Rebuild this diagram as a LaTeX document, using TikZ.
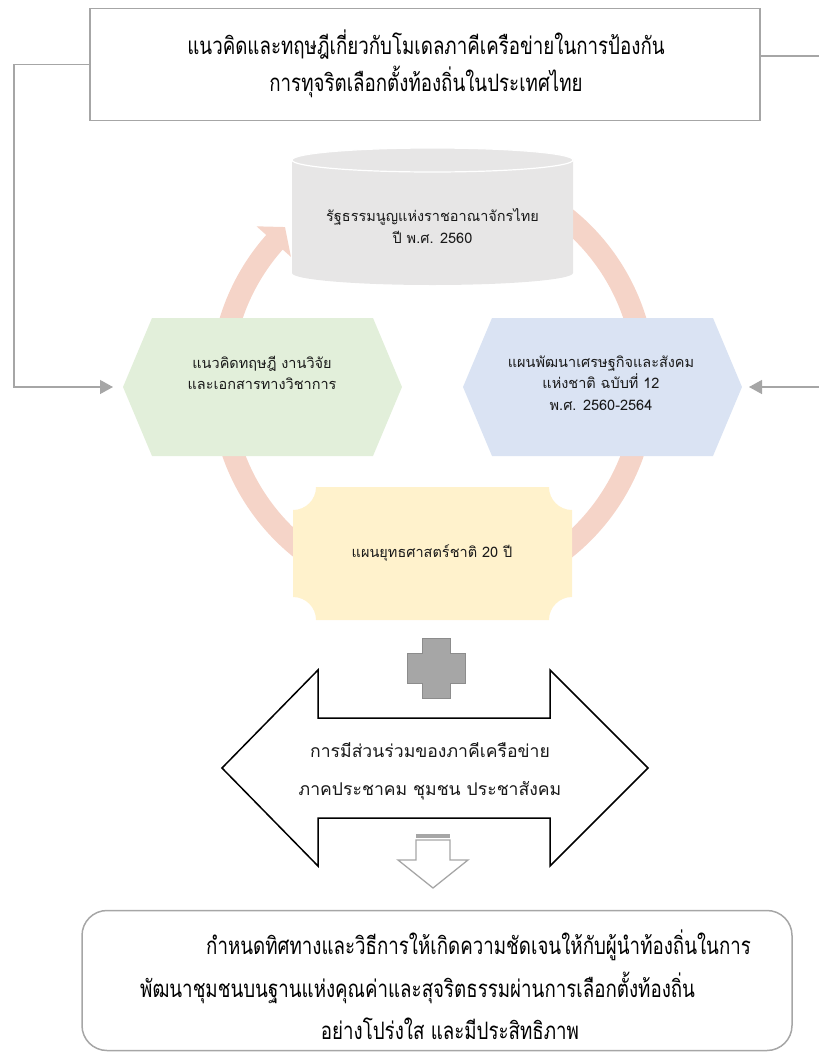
\documentclass[tikz,border=0pt]{standalone}
\usepackage{fontspec}
\newfontfamily\thai[Script=Thai]{Loma}
\newfontfamily\thaicond[Script=Thai,FakeStretch=0.78]{Loma}
\usetikzlibrary{calc,arrows.meta}
\definecolor{ringc}{RGB}{245,212,200}
\definecolor{cylc}{RGB}{231,230,230}
\definecolor{greenc}{RGB}{226,239,218}
\definecolor{bluec}{RGB}{218,227,243}
\definecolor{yellowc}{RGB}{255,242,204}
\definecolor{linec}{RGB}{166,166,166}
\definecolor{crossd}{RGB}{140,140,140}
\definecolor{txt}{RGB}{25,25,25}
\begin{document}
\begin{tikzpicture}[x=1pt,y=-1pt,
  conn/.style={draw=linec,line width=1.3pt},
  tipc/.style={-{Triangle[length=13pt,width=14pt]}},
  condtxt/.style={font={\thaicond\fontsize{24}{30}\selectfont},text=black,inner sep=0pt},
  midtxt/.style={font={\thai\fontsize{14.5}{21.5}\selectfont},text=txt,align=center,inner sep=0pt},
  bigtxt/.style={font={\thai\fontsize{17.6}{38}\selectfont},text=txt,align=center,inner sep=0pt}]
\useasboundingbox (0,0) rectangle (819,1055);
% ring
\coordinate (rc) at (433,383);
\draw[ringc,line width=22pt] ([shift={(-60:212)}]rc) arc[start angle=-60,end angle=222,radius=212];
\fill[ringc] ([shift={(221.6:190)}]rc) -- ([shift={(226.5:215)}]rc) -- ([shift={(221.6:236)}]rc) -- cycle;
% cylinder
\fill[cylc] (292,160) -- (292,273) arc[start angle=180,end angle=0,x radius=140.5,y radius=12]
  -- (573,160) arc[start angle=0,end angle=-180,x radius=140.5,y radius=12] -- cycle;
\draw[white,line width=1.2pt] (432.5,160) ellipse[x radius=140.5,y radius=12];
\node[midtxt] (cyl) at (432.5,226) {รัฐธรรมนูญแห่งราชอาณาจักรไทย\\ปี พ.ศ. 2560};
% left hexagon
\fill[greenc] (123,387) -- (152,318) -- (373,318) -- (402,387) -- (373,456) -- (152,456) -- cycle;
\coordinate (hexLw) at (123,387);
\node[midtxt] (hexL) at (262,373) {แนวคิดทฤษฎี งานวิจัย\\และเอกสารทางวิชาการ};
% right hexagon
\fill[bluec] (463,387) -- (492,318) -- (713,318) -- (742,387) -- (713,456) -- (492,456) -- cycle;
\coordinate (hexRe) at (742,387);
\node[midtxt] (hexR) at (601,383) {แผนพัฒนาเศรษฐกิจและสังคม\\แห่งชาติ ฉบับที่ 12\\พ.ศ. 2560-2564};
% yellow plaque
\fill[yellowc] (316,487) -- (549,487) arc[start angle=180,end angle=90,radius=23]
  -- (572,597) arc[start angle=-90,end angle=-180,radius=23]
  -- (316,620) arc[start angle=0,end angle=-90,radius=23]
  -- (293,510) arc[start angle=90,end angle=0,radius=23] -- cycle;
\node[midtxt] (plan) at (432,553) {แผนยุทธศาสตร์ชาติ 20 ปี};
% top box
\node[draw=linec,line width=1.6pt,minimum width=670pt,minimum height=112pt,inner sep=0pt] (topbox) at (425,64.5) {};
\node[condtxt] (t1) at (426,45) {แนวคิดและทฤษฎีเกี่ยวกับโมเดลภาคีเครือข่ายในการป้องกัน};
\node[condtxt] (t2) at (426,82) {การทุจริตเลือกตั้งท้องถิ่นในประเทศไทย};
% connectors
\coordinate (lcorner) at (14,387);
\coordinate (rcorner) at (840,387);
\draw[conn,tipc,shorten >=10pt] (topbox.west) -| (lcorner) -- (hexLw);
\draw[conn,tipc,shorten >=7pt] ([yshift=8.5pt]topbox.east) -| (rcorner) -- (hexRe);
% cross
\path[fill=linec,draw=crossd,line width=1pt] (422,638) -- (450,638) -- (450,653) -- (465,653) -- (465,683)
  -- (450,683) -- (450,698) -- (422,698) -- (422,683) -- (407,683) -- (407,653) -- (422,653) -- cycle;
% double arrow
\path[draw=black,fill=white,line width=1.5pt,line join=miter] (222,768) -- (318,670) -- (318,718) -- (550,718)
  -- (550,670) -- (648,768) -- (550,866) -- (550,818) -- (318,818) -- (318,866) -- cycle;
\node[bigtxt] (part) at (430,771) {การมีส่วนร่วมของภาคีเครือข่าย\\ภาคประชาคม ชุมชน ประชาสังคม};
% down arrow
\fill[linec] (416,834) rectangle (450,837.5);
\path[draw=linec,fill=white,line width=1.3pt] (416,840) -- (450,840) -- (450,860) -- (468,860) -- (433,888)
  -- (398,860) -- (416,860) -- cycle;
% bottom box
\node[draw=linec,line width=1.5pt,rounded corners=25pt,minimum width=710pt,minimum height=140pt] (outcome) at (437,980.5) {};
\node[condtxt,anchor=west] (o1) at (206,945) {กำหนดทิศทางและวิธีการให้เกิดความชัดเจนให้กับผู้นำท้องถิ่นในการ};
\node[condtxt,anchor=west] (o2) at (140,988) {พัฒนาชุมชนบนฐานแห่งคุณค่าและสุจริตธรรมผ่านการเลือกตั้งท้องถิ่น};
\node[condtxt] (o3) at (450,1029) {อย่างโปร่งใส และมีประสิทธิภาพ};
\end{tikzpicture}
\end{document}
